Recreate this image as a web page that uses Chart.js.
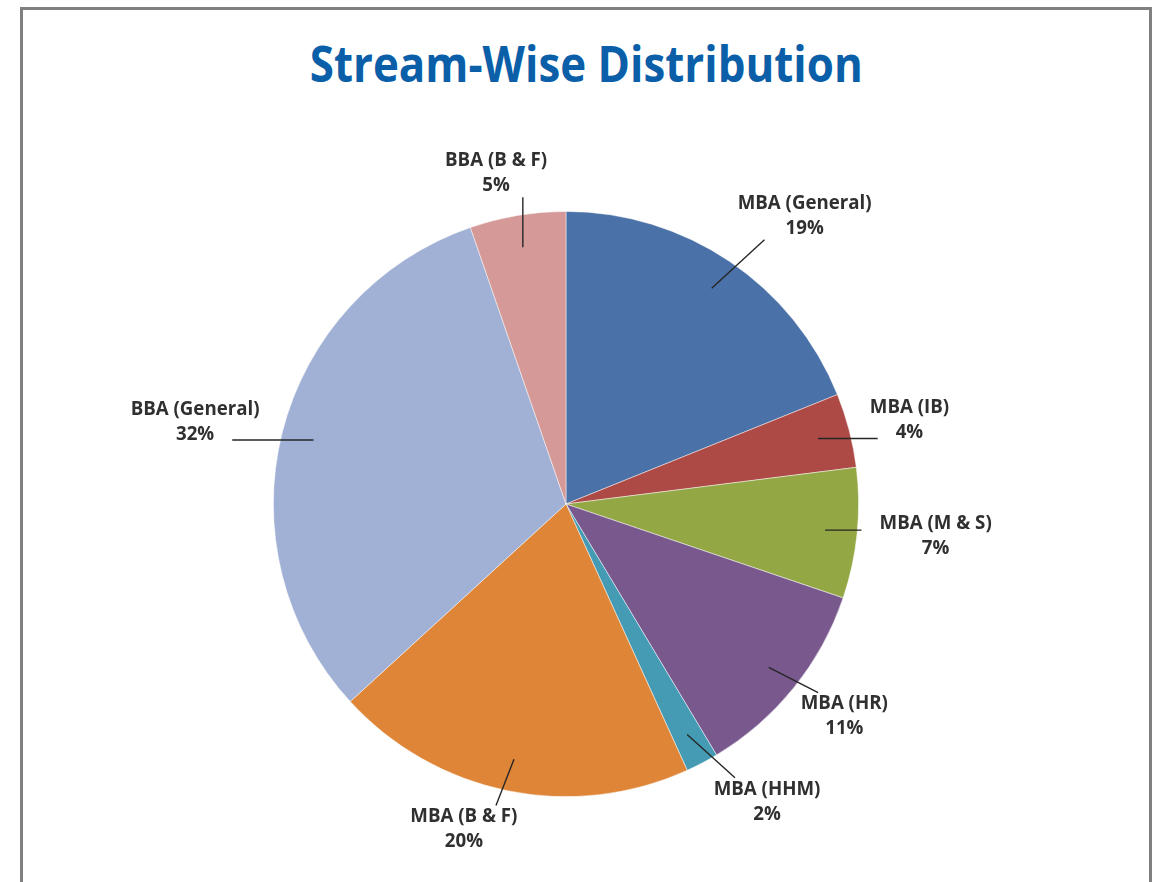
<!DOCTYPE html>
<html>
<head>
<meta charset="utf-8">
<script src="https://cdn.jsdelivr.net/npm/chart.js@4.4.1/dist/chart.umd.min.js"></script>
<style>
  html, body { margin: 0; padding: 0; background: #ffffff; overflow: hidden; }
  #frame { position: absolute; left: 20px; top: 7px; width: 1126px; height: 1000px;
           border: 3px solid #808080; box-sizing: content-box; }
  #title { position: absolute; left: 23px; width: 1126px; top: 32px; text-align: center;
           font-family: "Open Sans", sans-serif; font-weight: 700; font-size: 51px;
           color: #0a5fa8; line-height: 60px; white-space: nowrap; }
  #title span { display: inline-block; transform-origin: 50% 50%; }
  #c { position: absolute; left: 0; top: 0; }
</style>
</head>
<body>
<div id="frame"></div>
<div id="title"><span id="tt">Stream-Wise Distribution</span></div>
<canvas id="c" width="1157" height="882"></canvas>
<script>
// ---- data ----
const categories = ["MBA (General)", "MBA (IB)", "MBA (M & S)", "MBA (HR)", "MBA (HHM)", "MBA (B & F)", "BBA (General)", "BBA (B & F)"];
const shares = [18.9, 4.1, 7.2, 11.2, 1.8, 20.0, 31.5, 5.3];
const sliceColors = ["#4a71a8", "#ad4a46", "#93a745", "#79588e", "#459bb4", "#de8537", "#a0b1d5", "#d59998"];
const chartTitle = "Stream-Wise Distribution";

// ---- label placement styling (relative to each slice: angle shift in degrees, distance in radii) ----
const labelAngleShift = [5.6, 0.9, -0.8, -1.5, -6.3, 5.9, -1.8, -2.4];
const labelRadius = [1.279, 1.208, 1.268, 1.197, 1.228, 1.166, 1.298, 1.155];

document.getElementById('tt').textContent = chartTitle;

const labelPlugin = {
  id: 'excelLabels',
  afterDatasetsDraw(chart) {
    const ctx = chart.ctx;
    const meta = chart.getDatasetMeta(0);
    const total = shares.reduce((a, b) => a + b, 0);
    ctx.save();
    ctx.font = '700 18.7px "Open Sans", sans-serif';
    ctx.textAlign = 'center';
    ctx.textBaseline = 'middle';
    const half = 12.5, hy = 24, gap = 18;
    meta.data.forEach((arc, i) => {
      const p = arc.getProps(['x', 'y', 'startAngle', 'endAngle', 'outerRadius'], true);
      const mid = (p.startAngle + p.endAngle) / 2;
      const R = p.outerRadius;
      const la = mid + labelAngleShift[i] * Math.PI / 180;
      const cx = p.x + Math.cos(la) * labelRadius[i] * R;
      const cy = p.y + Math.sin(la) * labelRadius[i] * R;
      const ax = p.x + Math.cos(mid) * 0.89 * R, ay = p.y + Math.sin(mid) * 0.89 * R;
      const l1 = categories[i];
      const l2 = Math.round(shares[i] / total * 100) + '%';
      const w1 = ctx.measureText(l1).width, w2 = ctx.measureText(l2).width;
      const w = Math.max(w1, w2);
      let ex, ey;
      if (Math.abs(ay - cy) <= hy) {
        // anchor beside the label: stop before the nearest text line
        const wl = Math.abs(ay - (cy - half)) < Math.abs(ay - (cy + half)) ? w1 : w2;
        ex = ax < cx ? cx - wl / 2 - gap : cx + wl / 2 + gap;
        ey = ay;
      } else {
        const hx = w * 0.3;
        ex = Math.min(Math.max(ax, cx - hx), cx + hx);
        ey = Math.min(Math.max(ay, cy - hy), cy + hy);
      }
      ctx.strokeStyle = '#262626';
      ctx.lineWidth = 1.4;
      ctx.beginPath();
      ctx.moveTo(ax, ay);
      ctx.lineTo(ex, ey);
      ctx.stroke();
      ctx.fillStyle = '#303030';
      ctx.fillText(l1, cx, cy - half);
      ctx.fillText(l2, cx, cy + half);
    });
    ctx.restore();
  }
};

function build() {
  const tt = document.getElementById('tt');
  const tw = tt.getBoundingClientRect().width;
  tt.style.transform = 'scaleX(' + (553 / tw) + ')';

  new Chart(document.getElementById('c'), {
    type: 'pie',
    data: {
      labels: categories,
      datasets: [{
        data: shares,
        backgroundColor: sliceColors,
        borderColor: 'rgba(255,255,255,0.6)',
        borderWidth: 0.8
      }]
    },
    options: {
      responsive: false,
      animation: false,
      devicePixelRatio: 1,
      layout: { padding: { left: 273, right: 298, top: 211, bottom: 85 } },
      plugins: {
        legend: { display: false },
        tooltip: { enabled: false },
        title: { display: false }
      }
    },
    plugins: [labelPlugin]
  });
}

Promise.all([
  document.fonts.load('700 18.7px "Open Sans"'),
  document.fonts.load('700 51px "Open Sans"')
]).then(build, build);
</script>
</body>
</html>
